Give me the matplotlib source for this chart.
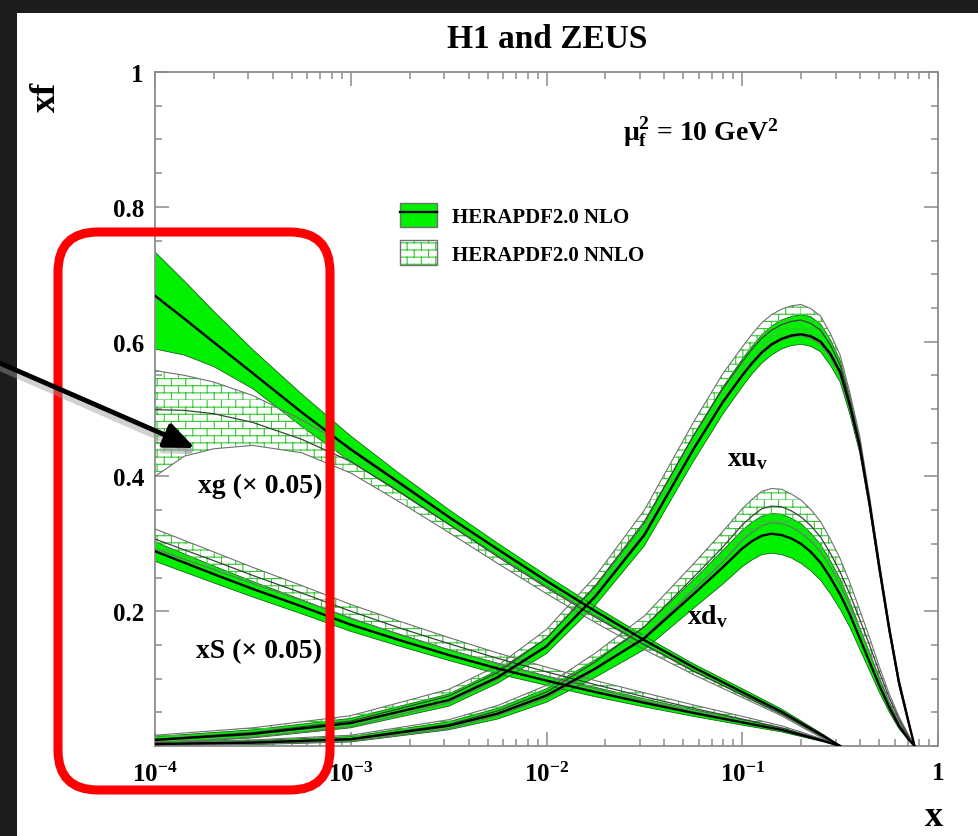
import numpy as np
import matplotlib
matplotlib.use('Agg')
import matplotlib.pyplot as plt
from matplotlib import hatch as mhatch
from matplotlib.path import Path
from matplotlib.patches import Rectangle, FancyBboxPatch, FancyArrowPatch, Patch
from matplotlib.lines import Line2D
from matplotlib.ticker import MultipleLocator, LogLocator, NullFormatter

# ---- data (x given as log10 x) ----
lx_low = [-4, -3.85, -3.7, -3.5, -3.25, -3, -2.75, -2.5, -2.25, -2, -1.75, -1.5, -1.25, -1, -0.8, -0.67, -0.58, -0.5]
lx_val = [-4, -3.5, -3, -2.5, -2.25, -2, -1.75, -1.5, -1.25, -1.1, -1, -0.95, -0.9, -0.85, -0.8, -0.75, -0.7,
          -0.65, -0.6, -0.55, -0.5, -0.45, -0.4, -0.35, -0.3, -0.25, -0.2, -0.15, -0.12]

# xg (x 0.05)
xg_nlo = [0.668, 0.634, 0.599, 0.553, 0.495, 0.440, 0.390, 0.340, 0.292, 0.245, 0.200, 0.157, 0.117, 0.080, 0.051, 0.029, 0.014, 0.0]
xg_nlo_up = [0.733, 0.690, 0.645, 0.588, 0.522, 0.460, 0.404, 0.351, 0.301, 0.253, 0.207, 0.163, 0.122, 0.085, 0.055, 0.032, 0.016, 0.0]
xg_nlo_dn = [0.589, 0.580, 0.563, 0.530, 0.474, 0.422, 0.376, 0.329, 0.283, 0.237, 0.193, 0.151, 0.112, 0.075, 0.047, 0.026, 0.012, 0.0]
xg_nnlo = [0.499, 0.498, 0.493, 0.480, 0.455, 0.422, 0.377, 0.329, 0.281, 0.235, 0.191, 0.150, 0.111, 0.076, 0.048, 0.027, 0.012, 0.0]
xg_nnlo_up = [0.557, 0.550, 0.540, 0.520, 0.484, 0.442, 0.392, 0.341, 0.291, 0.244, 0.199, 0.156, 0.116, 0.080, 0.051, 0.030, 0.014, 0.0]
xg_nnlo_dn = [0.400, 0.430, 0.441, 0.446, 0.435, 0.405, 0.362, 0.317, 0.271, 0.226, 0.183, 0.143, 0.106, 0.072, 0.045, 0.024, 0.010, 0.0]

# xS (x 0.05)
xs_nlo = [0.289, 0.272, 0.255, 0.233, 0.207, 0.180, 0.157, 0.135, 0.115, 0.097, 0.080, 0.064, 0.049, 0.035, 0.024, 0.014, 0.007, 0.0]
xs_nlo_up = [0.303, 0.285, 0.267, 0.244, 0.217, 0.189, 0.166, 0.143, 0.123, 0.104, 0.087, 0.070, 0.054, 0.039, 0.027, 0.016, 0.008, 0.0]
xs_nlo_dn = [0.274, 0.258, 0.242, 0.221, 0.196, 0.170, 0.148, 0.127, 0.107, 0.090, 0.073, 0.058, 0.044, 0.031, 0.021, 0.012, 0.006, 0.0]
xs_nnlo = [0.307, 0.291, 0.275, 0.253, 0.227, 0.200, 0.175, 0.152, 0.130, 0.110, 0.091, 0.073, 0.056, 0.040, 0.027, 0.016, 0.008, 0.0]
xs_nnlo_up = [0.322, 0.305, 0.288, 0.265, 0.238, 0.210, 0.185, 0.161, 0.138, 0.117, 0.097, 0.079, 0.061, 0.044, 0.030, 0.018, 0.009, 0.0]
xs_nnlo_dn = [0.293, 0.277, 0.262, 0.241, 0.216, 0.190, 0.165, 0.143, 0.122, 0.103, 0.085, 0.067, 0.051, 0.036, 0.024, 0.014, 0.007, 0.0]

# xu_v
xuv_nlo = [0.009, 0.018, 0.034, 0.068, 0.102, 0.148, 0.222, 0.313, 0.440, 0.510, 0.550, 0.568, 0.584, 0.596, 0.604,
           0.609, 0.611, 0.608, 0.600, 0.582, 0.555, 0.505, 0.445, 0.360, 0.265, 0.175, 0.095, 0.035, 0.0]
xuv_nlo_up = [0.014, 0.024, 0.041, 0.077, 0.112, 0.160, 0.236, 0.330, 0.460, 0.532, 0.574, 0.593, 0.610, 0.623, 0.632,
              0.637, 0.640, 0.637, 0.626, 0.603, 0.572, 0.518, 0.455, 0.368, 0.272, 0.181, 0.100, 0.038, 0.0]
xuv_nlo_dn = [0.004, 0.012, 0.027, 0.059, 0.093, 0.137, 0.209, 0.297, 0.422, 0.492, 0.533, 0.552, 0.568, 0.580, 0.589,
              0.594, 0.596, 0.593, 0.585, 0.565, 0.540, 0.492, 0.435, 0.352, 0.258, 0.169, 0.090, 0.032, 0.0]
xuv_nnlo = [0.010, 0.020, 0.037, 0.074, 0.109, 0.160, 0.238, 0.333, 0.460, 0.530, 0.570, 0.589, 0.605, 0.617, 0.625,
            0.630, 0.632, 0.627, 0.617, 0.595, 0.565, 0.512, 0.450, 0.363, 0.267, 0.176, 0.095, 0.035, 0.0]
xuv_nnlo_up = [0.016, 0.027, 0.045, 0.084, 0.119, 0.173, 0.252, 0.350, 0.480, 0.552, 0.592, 0.611, 0.628, 0.640, 0.648,
               0.653, 0.655, 0.649, 0.638, 0.612, 0.580, 0.524, 0.460, 0.371, 0.274, 0.182, 0.100, 0.038, 0.0]
xuv_nnlo_dn = [0.005, 0.013, 0.029, 0.064, 0.099, 0.147, 0.224, 0.316, 0.440, 0.508, 0.548, 0.567, 0.582, 0.594, 0.602,
               0.607, 0.609, 0.605, 0.596, 0.577, 0.550, 0.500, 0.440, 0.355, 0.260, 0.170, 0.090, 0.032, 0.0]

# xd_v
xdv_nlo = [0.003, 0.005, 0.010, 0.030, 0.048, 0.075, 0.115, 0.160, 0.225, 0.265, 0.293, 0.304, 0.312, 0.315, 0.313,
           0.308, 0.300, 0.288, 0.272, 0.250, 0.225, 0.195, 0.160, 0.125, 0.090, 0.058, 0.030, 0.010, 0.0]
xdv_nlo_up = [0.006, 0.008, 0.014, 0.036, 0.056, 0.085, 0.128, 0.177, 0.246, 0.290, 0.320, 0.332, 0.341, 0.345, 0.344,
              0.338, 0.330, 0.316, 0.299, 0.275, 0.248, 0.214, 0.176, 0.138, 0.100, 0.065, 0.034, 0.012, 0.0]
xdv_nlo_dn = [0.001, 0.002, 0.006, 0.024, 0.040, 0.065, 0.102, 0.143, 0.204, 0.240, 0.266, 0.276, 0.284, 0.286, 0.284,
              0.279, 0.271, 0.260, 0.246, 0.226, 0.203, 0.176, 0.144, 0.112, 0.080, 0.051, 0.026, 0.008, 0.0]
xdv_nnlo = [0.003, 0.006, 0.011, 0.032, 0.052, 0.080, 0.125, 0.177, 0.250, 0.295, 0.328, 0.341, 0.352, 0.356, 0.355,
            0.349, 0.340, 0.327, 0.310, 0.286, 0.258, 0.225, 0.188, 0.150, 0.110, 0.072, 0.040, 0.014, 0.0]
xdv_nnlo_up = [0.006, 0.009, 0.016, 0.039, 0.060, 0.090, 0.138, 0.193, 0.270, 0.318, 0.352, 0.366, 0.378, 0.382, 0.381,
               0.374, 0.365, 0.351, 0.333, 0.307, 0.278, 0.242, 0.202, 0.161, 0.118, 0.078, 0.044, 0.016, 0.0]
xdv_nnlo_dn = [0.001, 0.003, 0.007, 0.026, 0.045, 0.071, 0.113, 0.162, 0.231, 0.273, 0.305, 0.317, 0.327, 0.331, 0.330,
               0.325, 0.316, 0.304, 0.288, 0.266, 0.239, 0.208, 0.174, 0.139, 0.102, 0.066, 0.036, 0.012, 0.0]

x_ticks = [1e-4, 1e-3, 1e-2, 1e-1, 1]
x_ticklabels = [r'$\mathbf{10^{-4}}$', r'$\mathbf{10^{-3}}$', r'$\mathbf{10^{-2}}$', r'$\mathbf{10^{-1}}$', '1']
y_ticks = [0.2, 0.4, 0.6, 0.8, 1.0]
y_ticklabels = ['0.2', '0.4', '0.6', '0.8', '1']
legend_labels = ['HERAPDF2.0 NLO', 'HERAPDF2.0 NNLO']

GREEN = '#00f000'
HATCH_GREEN = '#33c833'


class BrickHatch(mhatch.HatchPatternBase):
    # brick wall pattern (like the ROOT fill style), one set for every '+'
    def __init__(self, hatch, density):
        self.rows = hatch.count('+') * 14
        self.cols = self.rows // 2
        self.num_vertices = (self.rows + self.rows * self.cols) * 2

    def set_vertices_and_codes(self, vertices, codes):
        h = 1.0 / self.rows
        w = 1.0 / self.cols
        k = 0
        for i in range(self.rows):
            vertices[k] = (0.0, i * h)
            vertices[k + 1] = (1.0, i * h)
            k += 2
            for j in range(self.cols):
                xx = (j + 0.5 * (i % 2)) * w
                vertices[k] = (xx, i * h)
                vertices[k + 1] = (xx, (i + 1) * h)
                k += 2
        codes[0::2] = Path.MOVETO
        codes[1::2] = Path.LINETO


mhatch._hatch_types = [BrickHatch]

plt.rcParams['font.family'] = ['Liberation Serif', 'DejaVu Serif']
plt.rcParams['font.weight'] = 'bold'
plt.rcParams['mathtext.fontset'] = 'custom'
plt.rcParams['mathtext.rm'] = 'Liberation Serif:bold'
plt.rcParams['mathtext.bf'] = 'Liberation Serif:bold'
plt.rcParams['mathtext.it'] = 'Liberation Serif:bold:italic'
plt.rcParams['hatch.linewidth'] = 0.8


def draw_band(ax, lx, c, up, dn, nnlo):
    x = 10 ** np.array(lx)
    if nnlo:
        ax.fill_between(x, dn, up, facecolor='none', edgecolor=HATCH_GREEN, lw=0, hatch='+', zorder=3)
        ax.plot(x, up, color='#707070', lw=0.8, zorder=3.5)
        ax.plot(x, dn, color='#707070', lw=0.8, zorder=3.5)
        ax.plot(x, c, color='#404040', lw=0.9, zorder=4)
    else:
        ax.fill_between(x, dn, up, facecolor=GREEN, lw=0, zorder=2)
        ax.plot(x, up, color='#1f5f1f', lw=0.6, zorder=2.5)
        ax.plot(x, dn, color='#1f5f1f', lw=0.6, zorder=2.5)
        ax.plot(x, c, color='black', lw=1.7, zorder=5)


W, H = 979, 837
fig = plt.figure(figsize=(W / 100, H / 100), dpi=100, facecolor='#1c1c1c')
fig.add_artist(Rectangle((17 / W, 0), 1 - 17 / W, 1 - 14 / H, transform=fig.transFigure,
                         facecolor='white', edgecolor='none', zorder=-1))

ax = fig.add_axes([155 / W, 1 - 747 / H, (938 - 155) / W, (747 - 73) / H])
ax.set_facecolor('white')

draw_band(ax, lx_low, xg_nlo, xg_nlo_up, xg_nlo_dn, False)
draw_band(ax, lx_low, xs_nlo, xs_nlo_up, xs_nlo_dn, False)
draw_band(ax, lx_val, xuv_nlo, xuv_nlo_up, xuv_nlo_dn, False)
draw_band(ax, lx_val, xdv_nlo, xdv_nlo_up, xdv_nlo_dn, False)
draw_band(ax, lx_low, xg_nnlo, xg_nnlo_up, xg_nnlo_dn, True)
draw_band(ax, lx_low, xs_nnlo, xs_nnlo_up, xs_nnlo_dn, True)
draw_band(ax, lx_val, xuv_nnlo, xuv_nnlo_up, xuv_nnlo_dn, True)
draw_band(ax, lx_val, xdv_nnlo, xdv_nnlo_up, xdv_nnlo_dn, True)

ax.set_xscale('log')
ax.set_xlim(1e-4, 1)
ax.set_ylim(0, 1)
ax.set_xticks(x_ticks, labels=x_ticklabels)
ax.xaxis.set_minor_locator(LogLocator(base=10, subs=np.arange(2, 10)))
ax.xaxis.set_minor_formatter(NullFormatter())
ax.set_yticks(y_ticks, labels=y_ticklabels)
ax.yaxis.set_minor_locator(MultipleLocator(0.05))
for s in ax.spines.values():
    s.set_color('#8c8c8c')
    s.set_linewidth(1.3)
ax.tick_params(which='both', direction='in', top=True, right=True, color='#8c8c8c', width=1.1)
ax.tick_params(which='major', length=10)
ax.tick_params(which='minor', length=5)
ax.tick_params(axis='x', which='major', labelsize=18, pad=11)
ax.tick_params(axis='y', which='major', labelsize=18, pad=8)

# curve labels
ax.text(10 ** -3.78, 0.386, 'xg (\u00d7 0.05)', fontsize=20, ha='left', va='center', zorder=6)
ax.text(10 ** -3.79, 0.141, 'xS (\u00d7 0.05)', fontsize=20, ha='left', va='center', zorder=6)
ax.text(10 ** -1.08, 0.426, r'xu$_\mathbf{v}$', fontsize=20, ha='left', va='center', zorder=6)
ax.text(10 ** -1.28, 0.193, r'xd$_\mathbf{v}$', fontsize=20, ha='left', va='center', zorder=6)

nlo_handle = (Patch(facecolor=GREEN, edgecolor='#707070', lw=1.0), Line2D([], [], color='black', lw=1.7))
nnlo_handle = (Patch(facecolor='white', edgecolor=HATCH_GREEN, lw=0, hatch='+'),
               Patch(facecolor='none', edgecolor='#707070', lw=1.0))
ax.legend([nlo_handle, nnlo_handle], legend_labels, loc='upper left', bbox_to_anchor=(0.313, 0.806),
          frameon=False, fontsize=15, handlelength=1.78, handleheight=1.45, labelspacing=0.62,
          handletextpad=0.72, borderpad=0, borderaxespad=0)

# titles / axis labels
fig.text(547 / W, 1 - 40 / H, 'H1 and ZEUS', ha='center', va='center', fontsize=24)
fig.text(623 / W, 1 - 133 / H, '\u03bc$_\\mathbf{f}^\\mathbf{2}$ = 10 GeV$^\\mathbf{2}$', ha='left', va='center', fontsize=20)
fig.text(46 / W, 1 - 97 / H, 'xf', ha='center', va='center', rotation=90, fontsize=26)
fig.text(934 / W, 1 - 818 / H, 'x', ha='center', va='center', fontsize=26)

# red highlight box and arrow (with a soft shadow)
fig.add_artist(FancyBboxPatch((0.58, (H - 791) / 100), 2.72, 5.58, boxstyle='round,pad=0,rounding_size=0.4',
                              transform=fig.dpi_scale_trans, facecolor='none', edgecolor='#ff0000',
                              lw=6.5, zorder=5))
fig.add_artist(FancyArrowPatch((-0.02, (H - 368) / 100), (1.97, (H - 455) / 100), transform=fig.dpi_scale_trans,
                               arrowstyle='-|>,head_length=0.9,head_width=0.38', mutation_scale=20,
                               color='#9a9a9a', alpha=0.45, lw=4.5, shrinkA=0, shrinkB=0, zorder=5.5))
fig.add_artist(FancyArrowPatch((-0.05, (H - 362) / 100), (1.95, (H - 449) / 100), transform=fig.dpi_scale_trans,
                               arrowstyle='-|>,head_length=0.9,head_width=0.38', mutation_scale=20,
                               color='black', lw=3.5, shrinkA=0, shrinkB=0, zorder=6))

fig.savefig('out.png', dpi=100, facecolor=fig.get_facecolor())
